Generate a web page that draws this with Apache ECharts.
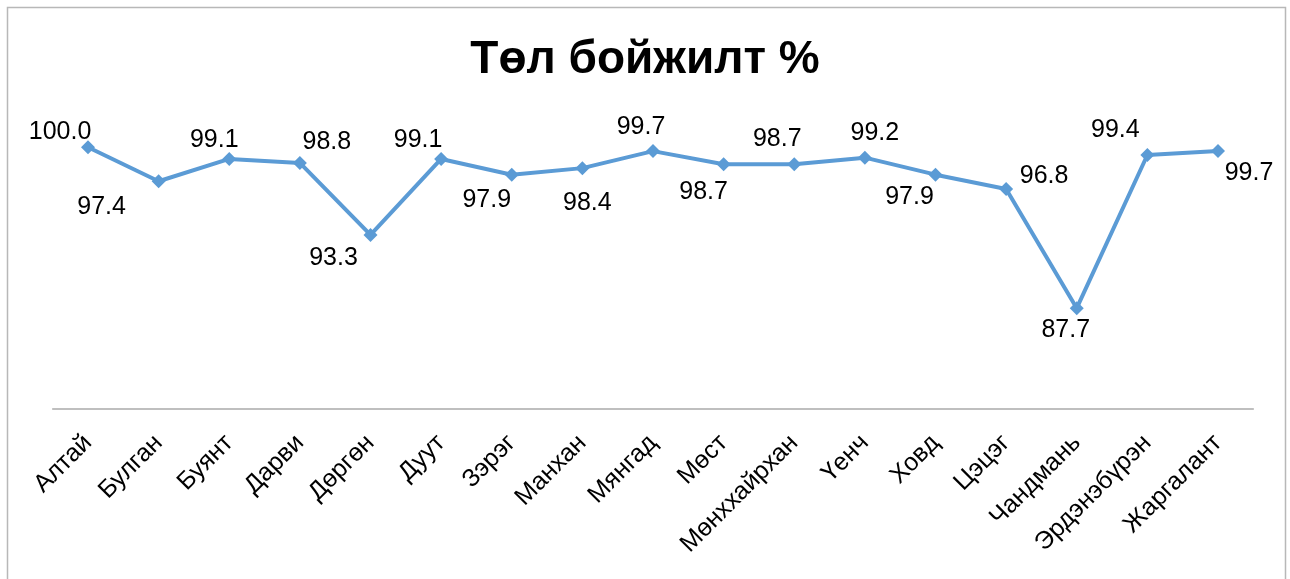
<!DOCTYPE html>
<html>
<head>
<meta charset="utf-8">
<script src="https://cdn.jsdelivr.net/npm/echarts@6/dist/echarts.min.js"></script>
<style>
  html, body { margin: 0; padding: 0; background: #fff; }
  #chart { width: 1290px; height: 579px; }
</style>
</head>
<body>
<div id="chart"></div>
<script>
var titleText = 'Төл бойжилт %';
var categories = ['Алтай', 'Булган', 'Буянт', 'Дарви', 'Дөргөн', 'Дуут', 'Зэрэг', 'Манхан', 'Мянгад',
  'Мөст', 'Мөнххайрхан', 'Үенч', 'Ховд', 'Цэцэг', 'Чандмань', 'Эрдэнэбүрэн', 'Жаргалант'];
var values = [100.0, 97.4, 99.1, 98.8, 93.3, 99.1, 97.9, 98.4, 99.7, 98.7, 98.7, 99.2, 97.9, 96.8, 87.7, 99.4, 99.7];

// where each value label sits relative to its point (px)
var labelOffsets = [[-28, -15], [-57, 26], [-15, -19], [27, -21], [-37, 23], [-23, -19], [-25, 25], [5, 35], [-12, -24],
  [-20, 28], [-17, -25], [10, -25], [-26, 22], [38, -13], [-11, 22], [-32, -25], [31, 22]];

var chart = echarts.init(document.getElementById('chart'));

var seriesData = values.map(function (v, i) {
  return {
    value: v,
    label: { offset: labelOffsets[i] }
  };
});

var option = {
  backgroundColor: '#fff',
  animation: false,
  title: {
    text: titleText,
    left: 'center',
    top: 32,
    textStyle: {
      fontFamily: 'Liberation Sans',
      fontWeight: 'bold',
      fontSize: 46,
      color: '#000'
    }
  },
  graphic: [{
    type: 'rect',
    shape: { x: 7.5, y: 7.5, width: 1278, height: 620 },
    style: { fill: 'none', stroke: '#b8b8b8', lineWidth: 1.5 },
    silent: true
  }],
  grid: { left: 52.7, right: 36.7, top: 121, bottom: 170 },
  xAxis: {
    type: 'category',
    data: categories,
    boundaryGap: true,
    axisLine: { lineStyle: { color: '#ababab', width: 1.5 } },
    axisTick: { show: false },
    axisLabel: {
      rotate: 45,
      interval: 0,
      margin: 30,
      color: '#000',
      fontFamily: 'Liberation Sans',
      fontSize: 25
    }
  },
  yAxis: {
    type: 'value',
    min: 80,
    max: 102,
    show: false,
    splitLine: { show: false }
  },
  series: [{
    type: 'line',
    data: seriesData,
    symbol: 'diamond',
    symbolSize: 14,
    lineStyle: { color: '#5b9bd5', width: 4 },
    itemStyle: { color: '#5b9bd5' },
    label: {
      show: true,
      position: 'inside',
      color: '#000',
      fontFamily: 'Liberation Sans',
      fontSize: 25,
      formatter: function (p) { return p.value.toFixed(1); }
    }
  }]
};

chart.setOption(option);
</script>
</body>
</html>
